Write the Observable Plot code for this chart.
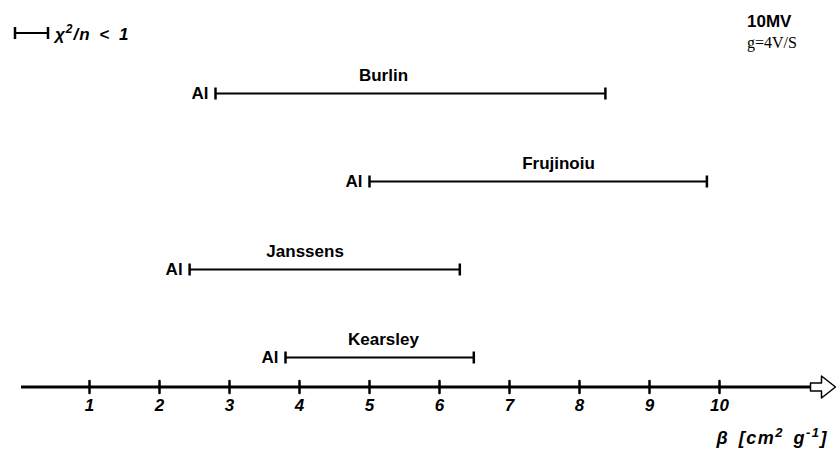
<!DOCTYPE html>
<html><head><meta charset="utf-8">
<script src="https://cdn.jsdelivr.net/npm/d3@7"></script>
<script src="https://cdn.jsdelivr.net/npm/@observablehq/plot@0.6"></script>
<style>
body{margin:0;background:#fff}
#wrap{position:relative;width:836px;height:455px}
#wrap svg.ov{position:absolute;left:0;top:0}
</style>
</head><body><div id="wrap"></div>
<script>
// Data
const names = ["Burlin", "Frujinoiu", "Janssens", "Kearsley"];
const betaLow = [2.8, 5.0, 2.43, 3.8];
const betaHigh = [8.37, 9.82, 6.29, 6.49];
const labelBeta = [5.2, 7.7, 4.08, 5.2];
const material = ["Al", "Al", "Al", "Al"];
const xTicks = [1, 2, 3, 4, 5, 6, 7, 8, 9, 10];
const axisEnd = 11.3;

const rows = names.map((name, i) => ({name, lo: betaLow[i], hi: betaHigh[i], lab: labelBeta[i], mat: material[i]}));

const capSymbol = {draw(ctx, size) { const l = Math.sqrt(size / Math.PI); ctx.moveTo(0, -l); ctx.lineTo(0, l); }};
const tickShape = {draw(ctx, l) { ctx.moveTo(0, 0); ctx.lineTo(0, -l); }};
const arrowShape = {draw(ctx, l) {
  ctx.moveTo(-4, 0); ctx.lineTo(-4, -11); ctx.lineTo(-11, -11); ctx.lineTo(0, -l);
  ctx.lineTo(11, -11); ctx.lineTo(4, -11); ctx.lineTo(4, 0); ctx.closePath();
}};

const chart = Plot.plot({
  width: 836, height: 455,
  marginTop: 0, marginBottom: 68.5, marginLeft: 19, marginRight: 26,
  style: {fontFamily: "Liberation Sans, Arial, sans-serif", background: "white", color: "black"},
  x: {domain: [0, axisEnd]},
  y: {type: "point", domain: names, range: [93, 357], padding: 0, axis: null},
  marks: [
    Plot.ruleY(rows, {y: "name", x1: "lo", x2: "hi", strokeWidth: 2, stroke: "black"}),
    Plot.dot(rows, {x: "lo", y: "name", r: 6, symbol: capSymbol, fill: "none", strokeWidth: 2.5, stroke: "black"}),
    Plot.dot(rows, {x: "hi", y: "name", r: 6, symbol: capSymbol, fill: "none", strokeWidth: 2.5, stroke: "black"}),
    Plot.text(rows, {x: "lo", y: "name", text: "mat", textAnchor: "end", dx: -7, fontSize: 17, fontWeight: "bold"}),
    Plot.text(rows, {x: "lab", y: "name", text: "name", dy: -18, fontSize: 17, fontWeight: "bold"}),
    Plot.frame({anchor: "bottom", strokeWidth: 3, insetLeft: 3, stroke: "black"}),
    Plot.vector(xTicks, {x: d => d, frameAnchor: "bottom", length: 12, anchor: "middle", shape: tickShape, strokeWidth: 2.5, stroke: "black"}),
    Plot.vector([axisEnd], {x: d => d, frameAnchor: "bottom", length: 25, rotate: 90, anchor: "start", shape: arrowShape, fill: "white", stroke: "black", strokeWidth: 1.5}),
    Plot.axisX(xTicks, {anchor: "bottom", tickSize: 0, tickPadding: 12, fontSize: 17, fontWeight: "bold", fontStyle: "italic", label: null})
  ]
});
const wrap = document.getElementById("wrap");
wrap.appendChild(chart);

const ov = `
<svg class="ov" width="836" height="455" font-family="Liberation Sans, Arial, sans-serif">
  <g stroke="black">
    <line x1="15" y1="33" x2="48" y2="33" stroke-width="2"/>
    <line x1="15" y1="27" x2="15" y2="39" stroke-width="2.5"/>
    <line x1="48" y1="27" x2="48" y2="39" stroke-width="2.5"/>
  </g>
  <text x="55" y="40" font-size="17" font-weight="bold" font-style="italic" letter-spacing="1" word-spacing="3">χ<tspan baseline-shift="super" font-size="12">2</tspan>/n &lt; 1</text>
  <text x="747" y="27" font-size="17" font-weight="bold">10MV</text>
  <text x="747" y="48" font-size="16" font-family="Liberation Serif, Times New Roman, serif">g=4V/S</text>
  <text x="828" y="444" text-anchor="end" font-size="18" font-weight="bold" font-style="italic" letter-spacing="1.5" word-spacing="3">β [cm<tspan baseline-shift="super" font-size="13">2</tspan> g<tspan baseline-shift="super" font-size="13">-1</tspan>]</text>
</svg>`;
wrap.insertAdjacentHTML("beforeend", ov);
</script>
</body></html>
